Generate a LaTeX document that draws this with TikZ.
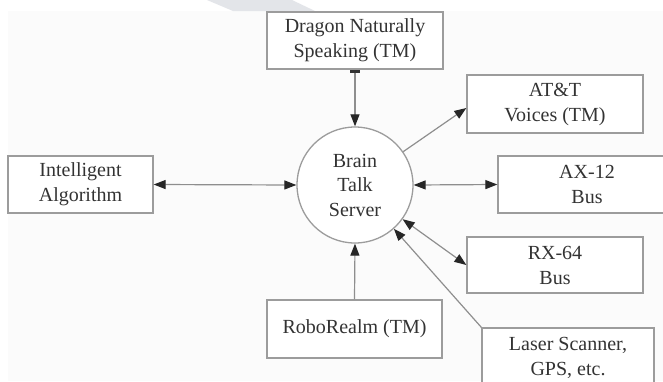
\documentclass[tikz,border=0pt]{standalone}
\usepackage{fontspec}
\setmainfont{Liberation Serif}
\usetikzlibrary{arrows.meta}
\definecolor{linegray}{HTML}{8E8E8E}
\definecolor{boxgray}{HTML}{9C9C9C}
\definecolor{txt}{HTML}{333333}
\definecolor{wm}{HTML}{E3E5E9}
\definecolor{bg}{HTML}{FBFBFB}
\tikzset{
  myarr/.tip={Triangle[length=12pt,width=9pt,color=black!85]},
  mybar/.tip={Bar[width=10pt,line width=3pt,color=black!80]},
}
\begin{document}
\begin{tikzpicture}[x=1pt,y=-1pt,
  box/.style={draw=boxgray, line width=1.3pt, fill=white, inner sep=0pt, align=center, text=txt, font=\fontsize{20}{25}\selectfont},
  srvstyle/.style={circle, draw=boxgray, line width=1.3pt, fill=white, minimum size=116pt, inner sep=0pt, align=center, text=txt, font=\fontsize{20}{24.5}\selectfont},
  conn/.style={draw=linegray, line width=1.2pt},
]
\useasboundingbox (0,0) rectangle (663,381);
\fill[white] (0,0) rectangle (663,381);
\fill[bg] (8,11) rectangle (663,381);
\fill[wm] (207,0) -- (292,0) -- (315,11) -- (233,11) -- cycle;

\node[box, minimum width=176pt, minimum height=57pt] (dragon) at (355,40.5) {Dragon Naturally\\Speaking (TM)};
\node[box, minimum width=176pt, minimum height=58pt] (att) at (555,104) {AT\&T\\Voices (TM)};
\node[box, minimum width=178pt, minimum height=57pt] (ax) at (587,184.5) {AX-12\\Bus};
\node[box, minimum width=176pt, minimum height=56pt] (rx) at (555,265) {RX-64\\Bus};
\node[box, minimum width=172pt, minimum height=60pt] (laser) at (568,358) {Laser Scanner,\\GPS, etc.};
\node[box, minimum width=145pt, minimum height=57pt] (intel) at (80.5,184.5) {Intelligent\\Algorithm};
\node[box, minimum width=175pt, minimum height=58pt] (robo) at (354.5,329) {RoboRealm (TM)};
\node[srvstyle] (srv) at (355,185) {Brain\\Talk\\Server};

\draw[conn, mybar-myarr] (dragon.south) -- (srv.north);
\draw[conn, myarr-myarr] (intel.east) -- (srv.west);
\draw[conn, -myarr] (srv) -- ([yshift=-4pt]att.west);
\draw[conn, myarr-myarr] (srv.east) -- (ax.west);
\draw[conn, myarr-myarr] (srv) -- (rx.west);
\draw[conn, -myarr] (laser.north west) -- (srv);
\draw[conn, -myarr] (robo.north) -- (srv.south);
\end{tikzpicture}
\end{document}
